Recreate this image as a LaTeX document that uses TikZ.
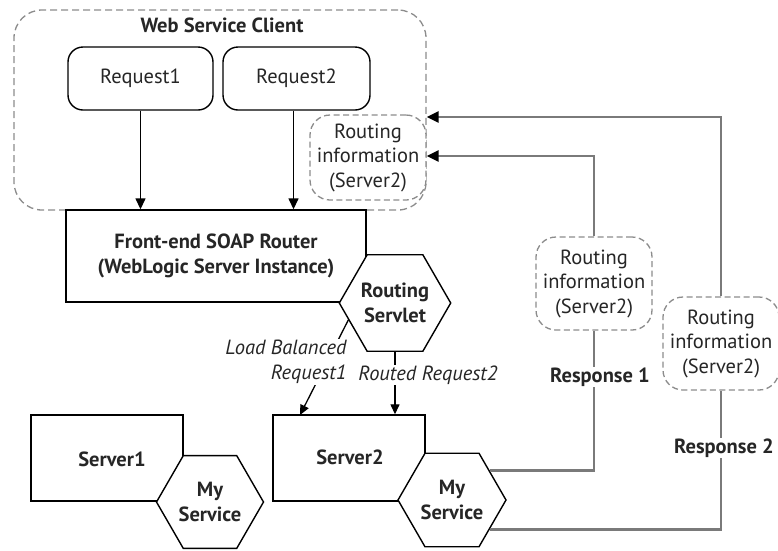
\documentclass[tikz,border=0pt]{standalone}
\usepackage{fontspec}
\setmainfont{PT Sans}
\usetikzlibrary{shapes.geometric,arrows.meta,calc}
\definecolor{dgray}{HTML}{8C8C8C}
\definecolor{lgray}{HTML}{7A7A7A}
\newcommand{\fsz}{\fontsize{20.5}{24.5}\selectfont}
\begin{document}
\begin{tikzpicture}[x=1pt,y=-1pt,
  every node/.style={font=\fsz, text=black!85},
  rbox/.style={draw, line width=1.4pt, rounded corners=15pt, inner sep=0pt},
  sbox/.style={draw, line width=1.4pt, inner sep=0pt, font=\bfseries\fsz},
  hexa/.style={draw, line width=1.4pt, fill=white, regular polygon, regular polygon sides=6, inner sep=0pt, align=center, font=\bfseries\fsz},
  rinfo/.style={draw=dgray, dashed, dash pattern=on 6pt off 3.5pt, line width=1.3pt, rounded corners=20pt, align=center, inner sep=0pt, minimum width=116pt, fill=white},
  req/.style={line width=1.4pt, -{Triangle[length=11pt,width=10pt]}},
  resp/.style={draw=lgray, line width=2.3pt},
  resparr/.style={resp, -{Triangle[length=12pt,width=11pt,color=black]}},
  lbl/.style={fill=white, inner sep=1pt, font=\bfseries\fsz},
  itl/.style={fill=white, inner sep=1pt, font=\itshape\fsz, align=right}
]
\useasboundingbox (0,0) rectangle (778,550);
% client
\node[draw=dgray, dashed, dash pattern=on 7pt off 4pt, line width=1.3pt, rounded corners=28pt, minimum width=412pt, minimum height=200pt, inner sep=0pt] (client) at (220,110) {};
\node[font=\bfseries\fsz] (ctitle) at (222,25) {Web Service Client};
\node[rbox, minimum width=145pt, minimum height=63pt] (r1) at (140.5,78.5) {Request1};
\node[rbox, minimum width=147pt, minimum height=63pt] (r2) at (296.5,78.5) {Request2};
\node[rinfo, minimum height=85pt] (ri0) at (368,157.5) {Routing\\information\\(Server2)};
% router
\node[sbox, minimum width=300pt, minimum height=92pt, align=center] (router) at (216,256) {Front-end SOAP Router\\(WebLogic Server Instance)};
\node[hexa, minimum size=109pt] (rs) at (395,303) {Routing\\Servlet};
\draw[req] (r1.south) -- (r1.south |- router.north);
\draw[req] ($(r2.south)+(-3,0)$) -- ($(r2.south |- router.north)+(-3,0)$);
% servers
\node[sbox, minimum width=152pt, minimum height=86pt] (s1) at (107,458) {};
\node[sbox, minimum width=152pt, minimum height=86pt] (s2) at (349,458) {};
\node[font=\bfseries\fsz] (s1t) at (112,459) {Server1};
\node[font=\bfseries\fsz] (s2t) at (350,457) {Server2};
\node[hexa, minimum size=107pt] (s1h) at (210,502) {My\\Service};
\node[hexa, minimum size=108pt] (s2h) at (452,500) {My\\Service};
% requests from servlet
\coordinate (lbend) at (300,415);
\draw[line width=1.3pt, -{Triangle[length=10pt,width=9pt]}] (rs.200) -- (lbend);
\node[itl] (lbt) at (286,362) {Load Balanced\\Request1};
\draw[line width=1.3pt, -{Triangle[length=10pt,width=9pt]}] (rs.south) -- (rs.south |- s2.north);
\node[itl] (rrt) at (428,375) {Routed Request2};
% responses
\node[rinfo, minimum height=93pt] (ri1) at (594,283.5) {Routing\\information\\(Server2)};
\node[rinfo, minimum height=93pt] (ri2) at (721,343.5) {Routing\\information\\(Server2)};
\draw[resp] (s2h.38) -| (ri1.south);
\draw[resp] (s2h.-38) -| (ri2.south);
\draw[resparr] (ri1.north) |- ($(client.east)+(0,46)$);
\draw[resparr] (ri2.north) |- ($(client.east)+(0,7)$);
\node[lbl] (resp1) at (600,377) {Response 1};
\node[lbl, anchor=west] (resp2) at (673,448) {Response 2};
\end{tikzpicture}
\end{document}
